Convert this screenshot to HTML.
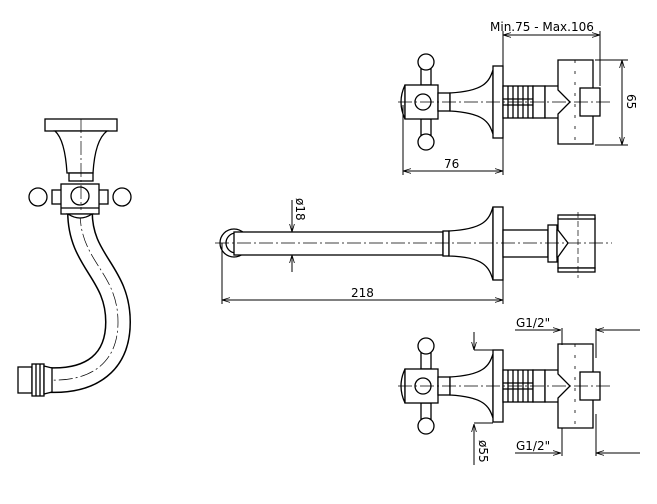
<!DOCTYPE html>
<html><head><meta charset="utf-8"><style>
html,body{margin:0;padding:0;background:#fff}
svg{display:block}
text{font-family:"DejaVu Sans","Liberation Sans",sans-serif;font-size:12px;fill:#000}
</style></head><body>
<svg width="657" height="504" viewBox="0 0 657 504" xmlns="http://www.w3.org/2000/svg">
<defs>
<marker id="a" viewBox="0 0 10 10" refX="10" refY="5" markerWidth="8" markerHeight="8" orient="auto-start-reverse"><path d="M0,2 L10,5 L0,8" fill="none" stroke="#000" stroke-width="1"/></marker>
<g id="valve" fill="#fff" stroke="#000" stroke-width="1.3">
  <rect x="421" y="-33" width="10" height="16"/>
  <rect x="421" y="17" width="10" height="16"/>
  <circle cx="426" cy="-40" r="8"/>
  <circle cx="426" cy="40" r="8"/>
  <path d="M405,-17 Q397,0 405,17 Z"/>
  <rect x="405" y="-17" width="33" height="34"/>
  <circle cx="423" cy="0" r="8"/>
  <rect x="438" y="-9" width="12" height="18"/>
  <path d="M450,-9 C484,-11 489,-20 493,-32 L493,32 C489,20 484,11 450,9 Z"/>
  <rect x="493" y="-36" width="10" height="72"/>
  <rect x="503" y="-16" width="30" height="32"/>
  <path d="M508,-16v32M513,-16v32M518,-16v32M523,-16v32M528,-16v32M503,-3h30M503,3h30" fill="none"/>
  <rect x="533" y="-16" width="12" height="32"/>
  <path d="M545,-16 L560,-16 L575,0 L560,16 L545,16 Z"/>
  <path d="M558,-42 H593 V42 H558 V12 L570,0 L558,-12 Z"/>
  <rect x="580" y="-14" width="20" height="28"/>
  <path d="M575,-42v84" fill="none" stroke-dasharray="3,8" stroke-width="0.8"/>
  <path d="M398,0 H610" fill="none" stroke-dasharray="14,3,2,3" stroke-width="0.7"/>
</g>
</defs>

<use href="#valve" transform="translate(0,102)"/>
<use href="#valve" transform="translate(0,386)"/>

<g fill="none" stroke="#000" stroke-width="1">
  <line x1="503" y1="31" x2="503" y2="66"/>
  <line x1="600" y1="31" x2="600" y2="86"/>
  <line x1="503" y1="35" x2="600" y2="35" marker-start="url(#a)" marker-end="url(#a)"/>
  <line x1="595" y1="60" x2="628" y2="60"/>
  <line x1="595" y1="145" x2="628" y2="145"/>
  <line x1="622" y1="60" x2="622" y2="145" marker-start="url(#a)" marker-end="url(#a)"/>
  <line x1="403" y1="105" x2="403" y2="175"/>
  <line x1="503" y1="138" x2="503" y2="175"/>
  <line x1="403" y1="171" x2="503" y2="171" marker-start="url(#a)" marker-end="url(#a)"/>

  <line x1="515" y1="330" x2="561" y2="330" marker-end="url(#a)"/>
  <line x1="640" y1="330" x2="596" y2="330" marker-end="url(#a)"/>
  <line x1="562" y1="328" x2="562" y2="345"/>
  <line x1="596" y1="328" x2="596" y2="358"/>
  <line x1="515" y1="453" x2="561" y2="453" marker-end="url(#a)"/>
  <line x1="640" y1="453" x2="596" y2="453" marker-end="url(#a)"/>
  <line x1="562" y1="428" x2="562" y2="456"/>
  <line x1="596" y1="414" x2="596" y2="456"/>
  <line x1="474" y1="332" x2="474" y2="350" marker-end="url(#a)"/>
  <line x1="474" y1="465" x2="474" y2="424" marker-end="url(#a)"/>
  <line x1="474" y1="350" x2="493" y2="350"/>
  <line x1="474" y1="423" x2="493" y2="423"/>
</g>

<g fill="#fff" stroke="#000" stroke-width="1.3">
  <circle cx="234" cy="243" r="14"/>
  <circle cx="236" cy="243" r="10"/>
  <rect x="234" y="232" width="209" height="23"/>
  <rect x="443" y="231" width="6" height="25"/>
  <path d="M449,231 C484,229 489,220 493,207 L493,280 C489,267 484,257 449,256 Z"/>
  <rect x="493" y="207" width="10" height="73"/>
  <rect x="503" y="230" width="45" height="27"/>
  <rect x="548" y="225" width="9" height="37"/>
  <path d="M557,230 L565,230 L575,243 L565,257 L557,257 Z"/>
  <path d="M558,218 H595 V268 H558 V257 L568,243 L558,230 Z"/>
  <rect x="558" y="215" width="37" height="4"/>
  <rect x="558" y="268" width="37" height="4"/>
</g>
<g fill="none" stroke="#000" stroke-width="0.7">
  <path d="M215,243 H612" stroke-dasharray="14,3,2,3"/>
  <path d="M578,212v66" stroke-dasharray="6,3"/>
</g>
<g fill="none" stroke="#000" stroke-width="1">
  <line x1="292" y1="200" x2="292" y2="232" marker-end="url(#a)"/>
  <line x1="292" y1="272" x2="292" y2="255" marker-end="url(#a)"/>
  <line x1="222" y1="243" x2="222" y2="304"/>
  <line x1="503" y1="280" x2="503" y2="304"/>
  <line x1="222" y1="300" x2="503" y2="300" marker-start="url(#a)" marker-end="url(#a)"/>
</g>

<g stroke="#000" fill="none">
  <path d="M80,212 C80,262 118,272 118,322 C118,362 92,382 48,380" stroke-width="26"/>
  <path d="M80,212 C80,262 118,272 118,322 C118,362 92,382 48,380" stroke="#fff" stroke-width="23"/>
  <path d="M80,212 C80,262 118,272 118,322 C118,362 92,382 48,380" stroke-width="0.7" stroke-dasharray="14,3,2,3"/>
</g>
<g fill="#fff" stroke="#000" stroke-width="1.3">
  <rect x="45" y="119" width="72" height="12"/>
  <path d="M55,131 Q65,140 67,173 L93,173 Q95,140 107,131 Z"/>
  <rect x="69" y="173" width="24" height="8"/>
  <rect x="52" y="190" width="10" height="14"/>
  <rect x="98" y="190" width="10" height="14"/>
  <circle cx="38" cy="197" r="9"/>
  <circle cx="122" cy="197" r="9"/>
  <rect x="61" y="184" width="38" height="30"/>
  <line x1="61" y1="208" x2="99" y2="208"/>
  <circle cx="80" cy="196" r="9"/>
  <path d="M68,214 Q80,222 92,214 Z"/>
  <rect x="18" y="367" width="14" height="26"/>
  <rect x="32" y="364" width="12" height="32"/>
  <path d="M36,364v32M40,364v32"/>
  <path d="M44,366 L52,368 L52,392 L44,394 Z"/>
</g>
<line x1="81" y1="119" x2="81" y2="210" stroke="#000" stroke-width="0.7" stroke-dasharray="14,3,2,3"/>

<text x="490" y="31">Min.75 - Max.106</text>
<text x="444" y="168">76</text>
<text x="351" y="297">218</text>
<text x="516" y="327">G1/2"</text>
<text x="516" y="450">G1/2"</text>
<text transform="translate(627,94) rotate(90)">65</text>
<text transform="translate(296,198) rotate(90)">ø18</text>
<text transform="translate(479,440) rotate(90)">ø55</text>
</svg>
</body></html>
